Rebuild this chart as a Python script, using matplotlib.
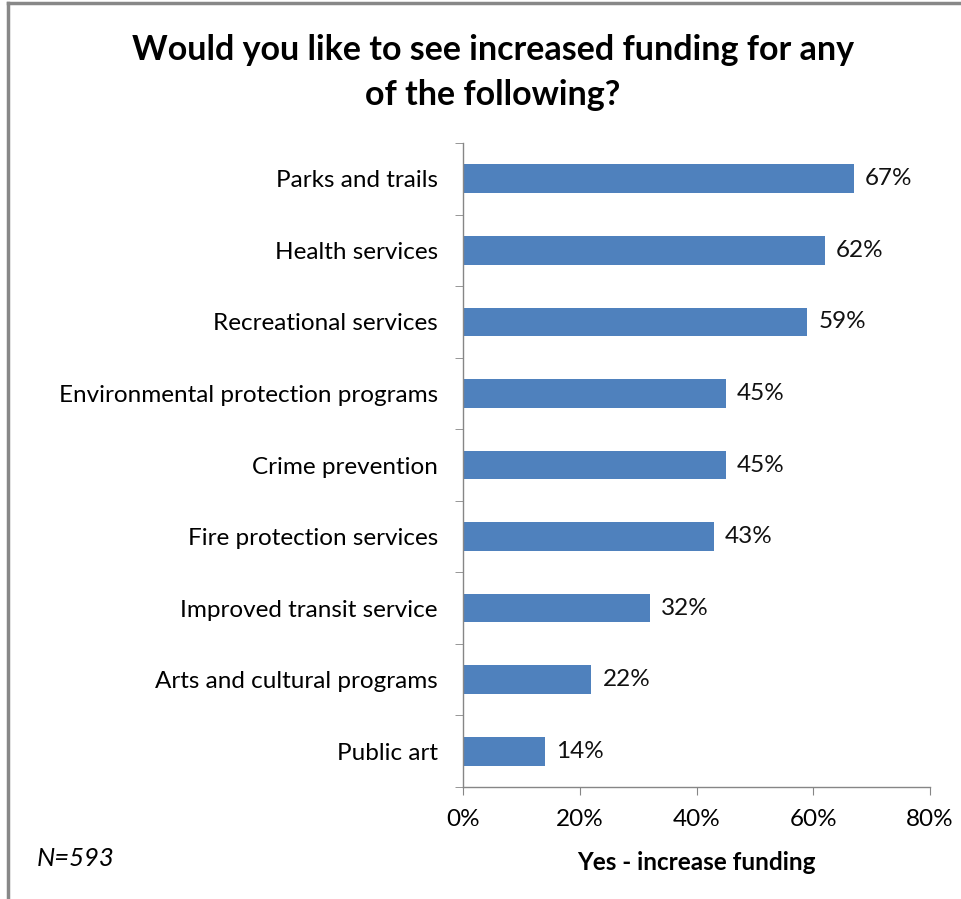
import matplotlib.pyplot as plt
import numpy as np
from matplotlib.ticker import FixedLocator, PercentFormatter
from matplotlib.lines import Line2D

plt.rcParams['font.family'] = ['Lato', 'DejaVu Sans']

categories = [
    "Parks and trails",
    "Health services",
    "Recreational services",
    "Environmental protection programs",
    "Crime prevention",
    "Fire protection services",
    "Improved transit service",
    "Arts and cultural programs",
    "Public art",
]
values = [67, 62, 59, 45, 45, 43, 32, 22, 14]
x_ticks = [0, 20, 40, 60, 80]

BAR = '#4F81BD'
GRID = '#868686'
FS = 17.5

fig = plt.figure(figsize=(9.61, 8.99), dpi=100)
ax = fig.add_axes([463 / 961, 1 - 787 / 899, (930 - 463) / 961, (787 - 143) / 899])

pos = np.arange(len(categories))
ax.barh(pos, values, height=0.4, color=BAR)
for p, v in zip(pos, values):
    ax.text(v + 1.9, p, f"{v}%", va='center', ha='left', fontsize=FS, color='#111111')

ax.set_xlim(0, 80)
ax.set_ylim(len(categories) - 0.5, -0.5)
ax.set_xticks(x_ticks)
ax.xaxis.set_major_formatter(PercentFormatter(decimals=0))

ax.set_yticks(pos)
ax.set_yticklabels(categories)
ax.yaxis.set_minor_locator(FixedLocator(np.arange(-0.5, len(categories), 1.0)))
ax.tick_params(axis='y', which='major', length=0, pad=18, labelsize=FS)
ax.tick_params(axis='y', which='minor', length=6, color=GRID, direction='out')
ax.tick_params(axis='x', length=6, color=GRID, direction='out', pad=10, labelsize=FS)

for side in ('top', 'right'):
    ax.spines[side].set_visible(False)
for side in ('left', 'bottom'):
    ax.spines[side].set_color(GRID)
    ax.spines[side].set_linewidth(1.0)

fig.text(493 / 961, 1 - 50 / 899, "Would you like to see increased funding for any",
         ha='center', va='center', fontsize=24.5, fontweight='bold')
fig.text(493 / 961, 1 - 95 / 899, "of the following?",
         ha='center', va='center', fontsize=24.5, fontweight='bold')
fig.text(696 / 961, 1 - 862 / 899, "Yes - increase funding",
         ha='center', va='center', fontsize=FS, fontweight='bold')
fig.text(37 / 961, 1 - 858 / 899, "N=593", ha='left', va='center',
         fontsize=18.5, style='italic')

# outer frame, only the top and left edges show
fig.add_artist(Line2D([8 / 961, 8 / 961], [0, 1 - 3 / 899], color='#888888', lw=2.5,
                      transform=fig.transFigure))
fig.add_artist(Line2D([8 / 961, 1], [1 - 3 / 899, 1 - 3 / 899], color='#888888', lw=2.5,
                      transform=fig.transFigure))

fig.savefig('out.png', dpi=100)
